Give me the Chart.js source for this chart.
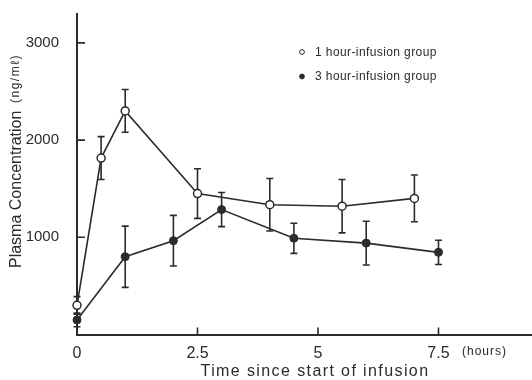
<!DOCTYPE html>
<html lang="en">

<head>
    <meta charset="UTF-8">
    <title>Plasma Concentration</title>
    <style>
        body {
            margin: 0;
            padding: 0;
            background: #fff;
        }

        #chart {
            display: block;
        }
    </style>
</head>

<body>
    <canvas id="chart" width="532" height="380"></canvas>

    <script src="https://cdn.jsdelivr.net/npm/chart.js"></script>
    <script>
        // Values (mean +/- error, ng/ml)
        const timesOneHour = [0, 0.5, 1, 2.5, 4, 5.5, 7];
        const concOneHour = [300, 1815, 2300, 1450, 1335, 1320, 1400];
        const errOneHour = [90, 220, 220, 255, 270, 275, 240];

        const timesThreeHour = [0, 1, 2, 3, 4.5, 6, 7.5];
        const concThreeHour = [150, 800, 965, 1285, 990, 940, 845];
        const errThreeHour = [70, 315, 260, 175, 155, 225, 125];

        const xTicks = [0, 2.5, 5, 7.5];
        const xTickLabels = ['0', '2.5', '5', '7.5'];
        const yTicks = [1000, 2000, 3000];
        const yTickLabels = ['1000', '2000', '3000'];

        const legendLabels = ['1 hour-infusion group', '3 hour-infusion group'];

        const ink = '#2b2b2b';
        const font = "'Liberation Sans', Arial, sans-serif";

        function toPoints(xs, ys) {
            return xs.map((x, i) => ({ x: x, y: ys[i] }));
        }

        // Error bars, drawn behind the markers
        const errorBars = {
            id: 'errorBars',
            beforeDatasetsDraw(chart) {
                const ctx = chart.ctx;
                const xs = chart.scales.x;
                const ys = chart.scales.y;
                ctx.save();
                ctx.strokeStyle = ink;
                ctx.lineWidth = 1.6;
                chart.data.datasets.forEach(ds => {
                    ds.data.forEach((p, i) => {
                        const e = ds.errors[i];
                        const px = xs.getPixelForValue(p.x);
                        const top = ys.getPixelForValue(p.y + e);
                        const bot = ys.getPixelForValue(p.y - e);
                        ctx.beginPath();
                        ctx.moveTo(px, top);
                        ctx.lineTo(px, bot);
                        ctx.moveTo(px - 3.5, top);
                        ctx.lineTo(px + 3.5, top);
                        ctx.moveTo(px - 3.5, bot);
                        ctx.lineTo(px + 3.5, bot);
                        ctx.stroke();
                    });
                });
                ctx.restore();
            }
        };

        // Inward tick marks, axis titles and the legend
        const decorations = {
            id: 'decorations',
            afterDraw(chart) {
                const ctx = chart.ctx;
                const xs = chart.scales.x;
                const ys = chart.scales.y;
                const area = chart.chartArea;
                ctx.save();
                ctx.strokeStyle = ink;
                ctx.lineWidth = 1.6;
                ctx.beginPath();
                yTicks.forEach(v => {
                    const py = ys.getPixelForValue(v);
                    ctx.moveTo(area.left, py);
                    ctx.lineTo(area.left + 8, py);
                });
                xTicks.slice(1).forEach(v => {
                    const px = xs.getPixelForValue(v);
                    ctx.moveTo(px, area.bottom);
                    ctx.lineTo(px, area.bottom - 7);
                });
                ctx.stroke();

                ctx.fillStyle = ink;
                ctx.textBaseline = 'middle';

                // "(hours)" after the last tick label
                ctx.font = '12px ' + font;
                ctx.letterSpacing = '1px';
                ctx.textAlign = 'left';
                ctx.fillText('(hours)', 462, 352);

                // x title
                ctx.font = '16px ' + font;
                ctx.letterSpacing = '1.4px';
                ctx.textAlign = 'center';
                ctx.fillText('Time since start of infusion', 315, 372);

                // y title, rotated
                ctx.save();
                ctx.translate(17, 190);
                ctx.rotate(-Math.PI / 2);
                ctx.textAlign = 'left';
                ctx.font = '16px ' + font;
                ctx.letterSpacing = '0px';
                ctx.fillText('Plasma Concentration', -78, 0);
                ctx.font = '12px ' + font;
                ctx.letterSpacing = '1.5px';
                ctx.fillText('(ng/m\u2113)', 87, -1);
                ctx.restore();

                // legend
                ctx.font = '12px ' + font;
                ctx.letterSpacing = '0.4px';
                ctx.textAlign = 'left';
                legendLabels.forEach((label, i) => {
                    const cy = 52 + i * 24.5;
                    ctx.beginPath();
                    ctx.arc(302, cy, 2.4, 0, Math.PI * 2);
                    ctx.fillStyle = i === 0 ? '#fff' : ink;
                    ctx.fill();
                    ctx.lineWidth = 1;
                    ctx.stroke();
                    ctx.fillStyle = ink;
                    ctx.fillText(label, 315, cy + 0.5);
                });
                ctx.restore();
            }
        };

        const ctx = document.getElementById('chart').getContext('2d');
        new Chart(ctx, {
            type: 'scatter',
            data: {
                datasets: [
                    {
                        label: legendLabels[0],
                        data: toPoints(timesOneHour, concOneHour),
                        errors: errOneHour,
                        showLine: true,
                        borderColor: ink,
                        borderWidth: 1.6,
                        pointRadius: 4,
                        pointBackgroundColor: '#fff',
                        pointBorderColor: ink,
                        pointBorderWidth: 1.5,
                        clip: false
                    },
                    {
                        label: legendLabels[1],
                        data: toPoints(timesThreeHour, concThreeHour),
                        errors: errThreeHour,
                        showLine: true,
                        borderColor: ink,
                        borderWidth: 1.6,
                        pointRadius: 4,
                        pointBackgroundColor: ink,
                        pointBorderColor: ink,
                        pointBorderWidth: 1,
                        clip: false
                    }
                ]
            },
            options: {
                responsive: false,
                animation: false,
                layout: {
                    autoPadding: false,
                    padding: { top: 13.7, left: 0, right: 0, bottom: 0 }
                },
                plugins: {
                    legend: { display: false },
                    tooltip: { enabled: false }
                },
                scales: {
                    x: {
                        type: 'linear',
                        min: 0,
                        max: 9.44,
                        grid: { display: false },
                        border: { display: true, color: ink, width: 2 },
                        ticks: {
                            color: ink,
                            font: { family: font, size: 16 },
                            padding: 1,
                            maxRotation: 0,
                            callback: (v) => xTickLabels[xTicks.indexOf(v)]
                        },
                        afterBuildTicks: s => { s.ticks = xTicks.map(v => ({ value: v })); },
                        afterFit: s => {
                            s.height = 45.5;
                            s.paddingLeft = 0;
                            s.paddingRight = 0;
                        }
                    },
                    y: {
                        min: 0,
                        max: 3300,
                        grid: { display: false },
                        border: { display: true, color: ink, width: 2 },
                        ticks: {
                            color: ink,
                            font: { family: font, size: 15 },
                            padding: 10,
                            callback: (v) => yTickLabels[yTicks.indexOf(v)]
                        },
                        afterBuildTicks: s => { s.ticks = yTicks.map(v => ({ value: v })); },
                        afterFit: s => {
                            s.width = 77;
                            s.paddingTop = 0;
                            s.paddingBottom = 0;
                        }
                    }
                }
            },
            plugins: [errorBars, decorations]
        });
    </script>
</body>

</html>
